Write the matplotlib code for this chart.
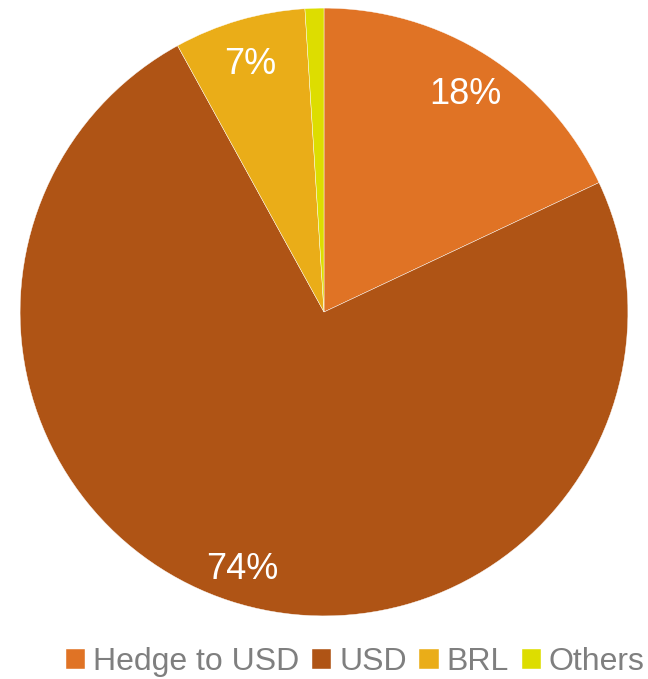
import matplotlib.pyplot as plt
from matplotlib.transforms import ScaledTranslation

plt.rcParams['font.family'] = ['Liberation Sans', 'DejaVu Sans']

labels = ["Hedge to USD", "USD", "BRL", "Others"]
shares = [18, 74, 7, 1]
colors = ["#E07325", "#AF5415", "#EAAD18", "#DDDD00"]

fig = plt.figure(figsize=(6.48, 6.79), dpi=100)
ax = fig.add_axes([0.031, 0.0928, 0.938, 0.8954])


def pct_label(p):
    return f"{p:.0f}%" if p >= 2 else ""


wedges, texts, autotexts = ax.pie(
    shares, colors=colors, startangle=90, counterclock=False,
    autopct=pct_label, pctdistance=0.87,
    wedgeprops=dict(edgecolor="white", linewidth=0.3),
    textprops=dict(color="white", fontsize=26),
)
# nudge the percentage labels down a little
shift = ScaledTranslation(0, -0.06, fig.dpi_scale_trans)
for t in autotexts:
    t.set_transform(t.get_transform() + shift)

ax.set_xlim(-1, 1)
ax.set_ylim(-1, 1)
ax.set_aspect("equal")

leg = fig.legend(wedges, labels, loc="center right", bbox_to_anchor=(1.0, 0.025),
                 ncol=4, frameon=False, fontsize=23, handlelength=0.6,
                 handleheight=0.6, handletextpad=0.25, columnspacing=0.4,
                 borderaxespad=0, borderpad=0.1)
for t in leg.get_texts():
    t.set_color("#7F7F7F")

fig.savefig("out.png", dpi=100)
